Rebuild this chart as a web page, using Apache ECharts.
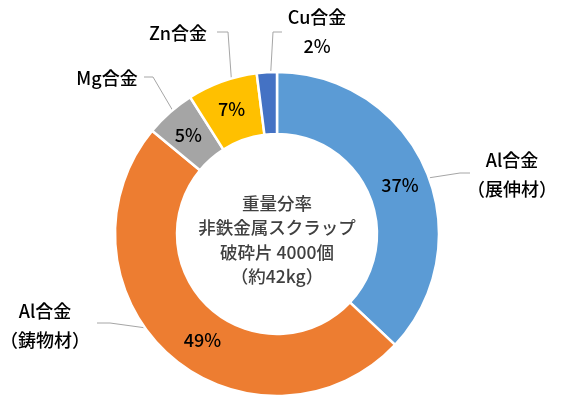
<!DOCTYPE html>
<html>
<head>
<meta charset="utf-8">
<script src="https://cdn.jsdelivr.net/npm/echarts@6/dist/echarts.min.js"></script>
<style>
  html, body { margin: 0; padding: 0; background: #fff; }
  #chart { width: 567px; height: 406px; }
</style>
</head>
<body>
<div id="chart"></div>
<script>
// data
var names = ['Al合金\n（展伸材）', 'Al合金\n（鋳物材）', 'Mg合金', 'Zn合金', 'Cu合金'];
var shares = [37, 49, 5, 7, 2];
var colors = ['#5B9BD5', '#ED7D31', '#A5A5A5', '#FFC000', '#4472C4'];
var centerLines = ['重量分率', '非鉄金属スクラップ', '破砕片 4000個', '（約42kg）'];

// where the name labels sit and how their leader lines run
var nameSpots = [
  {x: 512, y: 175, line: [[415, 180], [460, 173], [470, 173]]},
  {x: 45, y: 326, line: [[190, 334], [110, 323], [97, 323]]},
  {x: 107, y: 78, line: [[173, 111], [153, 77], [144, 77]]},
  {x: 178, y: 33, line: [[233, 102], [228, 32], [217, 32]]},
  {x: 317, y: 32, line: [[269, 103], [273, 32], [282, 32]]}
];
var pctOutside = [false, false, false, false, true];
var pctShift = [[0, 4], [14, 6], [0, 2], [0, 1], [0, 0]];

var font = '"Noto Sans CJK JP", "Noto Sans", sans-serif';
var ringCenter = [277, 234];
var ringRadius = [100, 162];

var ringData = shares.map(function (v, i) {
  return {
    name: names[i], value: v,
    itemStyle: {color: colors[i]},
    label: {show: !pctOutside[i]}
  };
});
var nameData = shares.map(function (v, i) {
  return {name: names[i], value: v};
});

var chart = echarts.init(document.getElementById('chart'));
chart.setOption({
  animation: false,
  backgroundColor: '#fff',
  series: [
    {
      type: 'pie',
      center: ringCenter,
      radius: ringRadius,
      startAngle: 90,
      clockwise: true,
      avoidLabelOverlap: false,
      itemStyle: {borderColor: '#fff', borderWidth: 2.5},
      emphasis: {disabled: true},
      label: {
        position: 'inside',
        formatter: '{c}%',
        color: '#000',
        fontFamily: font,
        fontWeight: 500,
        fontSize: 18
      },
      labelLayout: function (p) {
        var s = pctShift[p.dataIndex];
        return {dx: s[0], dy: s[1]};
      },
      data: ringData
    },
    {
      type: 'pie',
      silent: true,
      center: ringCenter,
      radius: ringRadius,
      startAngle: 90,
      clockwise: true,
      avoidLabelOverlap: false,
      itemStyle: {color: 'rgba(0,0,0,0)', borderWidth: 0},
      emphasis: {disabled: true},
      label: {
        position: 'outside',
        formatter: function (p) {
          return pctOutside[p.dataIndex] ? p.name + '\n' + p.value + '%' : p.name;
        },
        color: '#000',
        fontFamily: font,
        fontWeight: 500,
        fontSize: 18,
        lineHeight: 29,
        align: 'center'
      },
      labelLine: {
        show: true,
        lineStyle: {color: '#A6A6A6', width: 1}
      },
      labelLayout: function (p) {
        var s = nameSpots[p.dataIndex];
        return {
          x: s.x, y: s.y,
          align: 'center', verticalAlign: 'middle',
          labelLinePoints: s.line
        };
      },
      data: nameData
    }
  ],
  graphic: [{
    type: 'text',
    x: 277,
    y: 240,
    style: {
      text: centerLines.join('\n'),
      font: '500 17.5px ' + font,
      fill: '#404040',
      align: 'center',
      verticalAlign: 'middle',
      lineHeight: 24.5
    }
  }]
});
</script>
</body>
</html>
